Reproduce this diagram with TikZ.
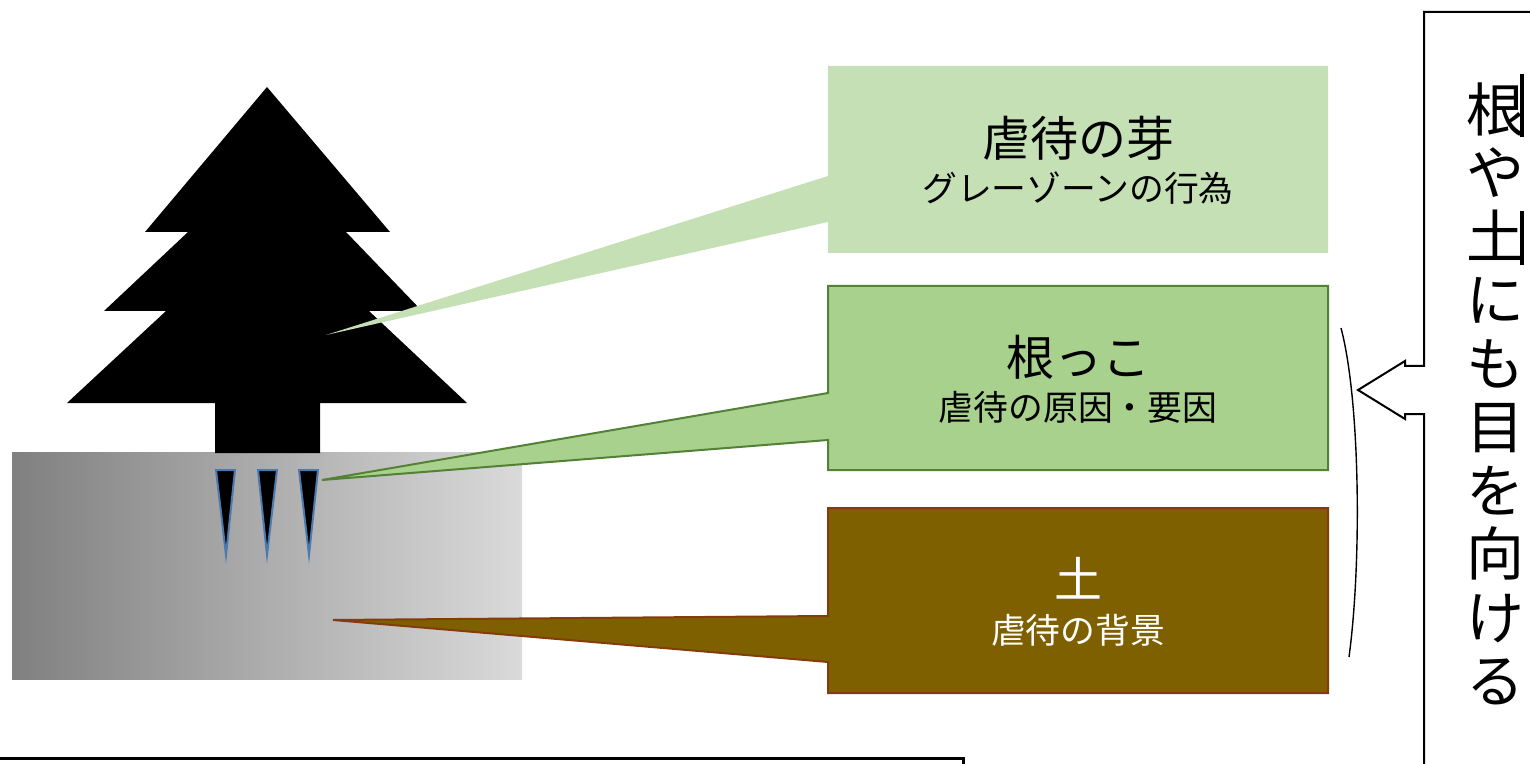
\documentclass[tikz,border=0pt]{standalone}
\usepackage{fontspec}
\newfontfamily\jp{Noto Sans CJK JP}

\definecolor{sproutfill}{HTML}{C5E0B4}
\definecolor{rootfill}{HTML}{A9D18E}
\definecolor{rootedge}{HTML}{538135}
\definecolor{soilfill}{HTML}{7F6000}
\definecolor{soiledge}{HTML}{843C0C}
\definecolor{tiprootblue}{HTML}{4A7AB0}
\definecolor{groundleft}{HTML}{808080}
\definecolor{groundright}{HTML}{DADADA}

\tikzset{
  title/.style={font=\jp\fontsize{24}{28}\selectfont, inner sep=0pt},
  subtitle/.style={font=\jp\fontsize{17.4}{20}\selectfont, inner sep=0pt},
  rootspike/.style={fill=black, draw=tiprootblue, line width=1pt},
  frame/.style={draw=black, line width=1pt},
  vtext/.style={font=\jp\fontsize{29}{31.75}\selectfont, align=center, inner sep=0pt}
}

\begin{document}
\begin{tikzpicture}[x=0.5pt, y=-0.5pt]
  \useasboundingbox (0,0) rectangle (1530,764);
  \clip (0,0) rectangle (1530,764);

  % ground
  \shade[left color=groundleft, right color=groundright] (12,452) rectangle (522,679);

  % tree silhouette
  \fill[black] (267,87) -- (390,232) -- (346,232) -- (422,311) -- (369,311)
    -- (467,403) -- (320,403) -- (320,453) -- (215,453) -- (215,403)
    -- (67,403) -- (166,311) -- (104,311) -- (188,232) -- (145,232) -- cycle;

  % roots
  \filldraw[rootspike] (216,470) -- (235,470) -- (226,555) -- cycle;
  \filldraw[rootspike] (258,470) -- (277,470) -- (267,555) -- cycle;
  \filldraw[rootspike] (299,470) -- (318,470) -- (309,555) -- cycle;

  % callout: sprout
  \fill[sproutfill] (828,66) -- (1328,66) -- (1328,253) -- (828,253)
    -- (828,222) -- (326,335) -- (828,176) -- cycle;
  % callout: roots
  \filldraw[fill=rootfill, draw=rootedge, line width=1pt]
    (828,286) -- (1328,286) -- (1328,470) -- (828,470)
    -- (828,440) -- (322,480) -- (828,393) -- cycle;
  % callout: soil
  \filldraw[fill=soilfill, draw=soiledge, line width=1pt]
    (828,508) -- (1328,508) -- (1328,693) -- (828,693)
    -- (828,662) -- (333,620) -- (828,616) -- cycle;

  \node[title] (sproutT) at (1078,138) {虐待の芽};
  \node[subtitle] (sproutS) at (1078,188) {グレーゾーンの行為};
  \node[title] (rootT) at (1078,357) {根っこ};
  \node[subtitle] (rootS) at (1078,407) {虐待の原因・要因};
  \node[title, text=white] (soilT) at (1078,578) {土};
  \node[subtitle, text=white] (soilS) at (1078,630) {虐待の背景};

  % bracket grouping roots and soil
  \draw[line width=0.7pt] (1341,328) .. controls (1360,400) and (1362,560) .. (1349,657);

  % right callout pointing at the bracket
  \filldraw[fill=white, frame] (1545,12) -- (1424,12) -- (1424,366) -- (1405,366)
    -- (1405,361) -- (1358,390) -- (1405,419) -- (1405,414) -- (1424,414)
    -- (1424,790) -- (1545,790);
  \node[vtext] (look) at (1495,394) {根\\や\\土\\に\\も\\目\\を\\向\\け\\る};
  \fill[black] (1520,74) rectangle (1524,137);
  \fill[black] (1520,211) rectangle (1524,265);

  % lower frame
  \draw[line width=1.5pt] (-10,758) -- (963,758) -- (963,790);
\end{tikzpicture}
\end{document}
